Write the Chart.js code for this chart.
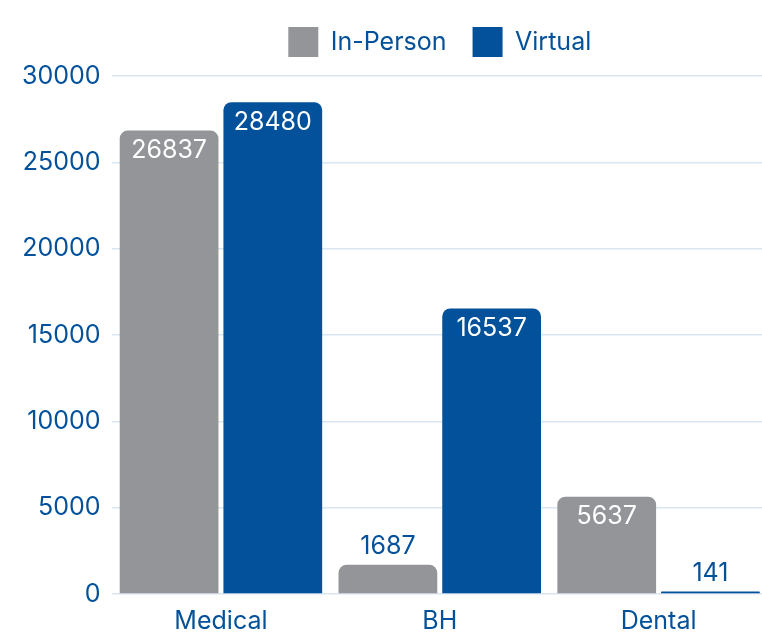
<!DOCTYPE html>
<html>
<head>
<meta charset="utf-8">
<script src="https://cdn.jsdelivr.net/npm/chart.js@4.4.0/dist/chart.umd.min.js"></script>
<style>
  html, body { margin: 0; padding: 0; background: #fff; overflow: hidden; }
  #wrap { width: 775px; height: 640px; }
</style>
</head>
<body>
<div id="wrap"><canvas id="chart" width="775" height="640"></canvas></div>
<script>
const categories = ["Medical", "BH", "Dental"];
const inPerson = [26837, 1687, 5637];
const virtual = [28480, 16537, 141];
const yTicks = [0, 5000, 10000, 15000, 20000, 25000, 30000];

const BLUE = "#03519a";
const GRAY = "#939598";
const FONT = "Inter, 'Noto Sans', sans-serif";

// etiquetas de valor sobre / dentro de las barras
const valueLabels = {
  id: "valueLabels",
  afterDatasetsDraw(chart) {
    const ctx = chart.ctx;
    ctx.save();
    ctx.font = "25px " + FONT;
    ctx.textAlign = "center";
    ctx.textBaseline = "middle";
    chart.data.datasets.forEach((ds, i) => {
      chart.getDatasetMeta(i).data.forEach((bar, j) => {
        const h = bar.base - bar.y;
        const txt = String(ds.data[j]);
        if (h > 45) {
          ctx.fillStyle = "#ffffff";
          ctx.fillText(txt, bar.x, bar.y + 20);
        } else {
          ctx.fillStyle = BLUE;
          ctx.fillText(txt, bar.x, bar.y - 18);
        }
      });
    });
    ctx.restore();
  }
};

// leyenda centrada sobre el área del gráfico, con algo más de aire debajo
const legendTweak = {
  id: "legendTweak",
  beforeInit(chart) {
    const fit = chart.legend.fit;
    chart.legend.fit = function () {
      fit.call(this);
      this.height += 9;
    };
  },
  afterLayout(chart) {
    chart.legend.left = chart.chartArea.left;
    chart.legend.right = chart.chartArea.right;
  }
};

new Chart(document.getElementById("chart"), {
  type: "bar",
  data: {
    labels: categories,
    datasets: [
      { label: "In-Person", data: inPerson, backgroundColor: GRAY, borderRadius: 8,
        categoryPercentage: 0.948, barPercentage: 0.952 },
      { label: "Virtual", data: virtual, backgroundColor: BLUE, borderRadius: 8,
        categoryPercentage: 0.948, barPercentage: 0.952 }
    ]
  },
  options: {
    responsive: false,
    animation: false,
    layout: { padding: { left: 11, right: 7, top: 1, bottom: 0 } },
    plugins: {
      legend: {
        position: "top",
        labels: {
          boxWidth: 30, boxHeight: 30, padding: 26,
          color: BLUE, font: { family: FONT, size: 25 }
        }
      },
      tooltip: { enabled: false }
    },
    scales: {
      x: {
        grid: { display: false },
        border: { display: false },
        ticks: { color: BLUE, font: { family: FONT, size: 25 }, padding: 4 }
      },
      y: {
        min: 0, max: 30000,
        afterBuildTicks: (axis) => { axis.ticks = yTicks.map(v => ({ value: v })); },
        grid: { color: "#d9e5f0", lineWidth: 1.5, drawTicks: false },
        border: { display: false },
        ticks: {
          color: BLUE, font: { family: FONT, size: 25 }, padding: 11,
          callback: (v) => String(v)
        }
      }
    }
  },
  plugins: [valueLabels, legendTweak]
});
</script>
</body>
</html>
